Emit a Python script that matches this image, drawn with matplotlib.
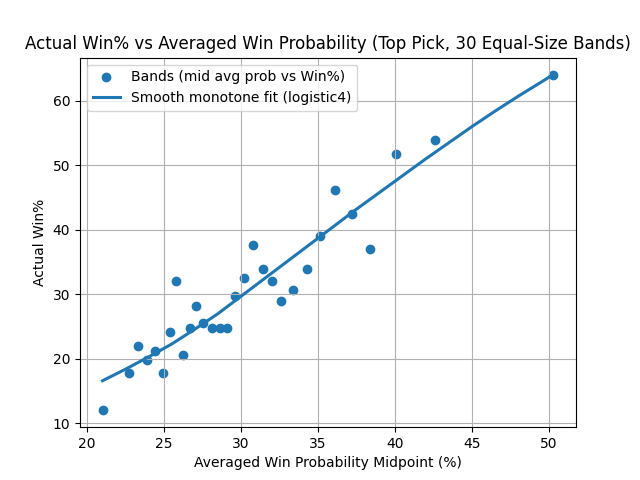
import numpy as np
import matplotlib.pyplot as plt

# Band midpoints (avg win probability, %) and actual win%
mid_prob = [21.0, 22.7, 23.3, 23.9, 24.4, 24.9, 25.4, 25.8, 26.2, 26.7,
            27.1, 27.5, 28.1, 28.6, 29.1, 29.6, 30.2, 30.8, 31.4, 32.0,
            32.6, 33.4, 34.3, 35.1, 36.1, 37.2, 38.4, 40.1, 42.6, 50.3]
win_pct = [12.0, 17.8, 22.0, 19.8, 21.2, 17.8, 24.2, 32.0, 20.6, 24.8,
           28.2, 25.6, 24.8, 24.8, 24.8, 29.8, 32.6, 37.6, 34.0, 32.0,
           28.9, 30.6, 34.0, 39.0, 46.1, 42.5, 37.0, 51.7, 53.9, 64.0]

# Fitted curve
fit_x = [21.0, 22.5, 24.0, 25.5, 27.0, 28.5, 30.0, 31.5, 33.0, 34.5, 36.0,
         37.5, 39.0, 40.5, 42.0, 43.5, 45.0, 46.5, 48.0, 49.5, 50.3]
fit_y = [16.6, 18.4, 20.3, 22.3, 24.6, 27.0, 29.7, 32.4, 35.1, 37.8, 40.5,
         43.2, 45.8, 48.4, 51.0, 53.5, 56.0, 58.4, 60.7, 62.9, 64.1]

fig, ax = plt.subplots(figsize=(6.4, 4.8))
ax.scatter(mid_prob, win_pct, label="Bands (mid avg prob vs Win%)")
ax.plot(fit_x, fit_y, linewidth=2.2, label="Smooth monotone fit (logistic4)")
ax.set_title("Actual Win% vs Averaged Win Probability (Top Pick, 30 Equal-Size Bands)")
ax.set_xlabel("Averaged Win Probability Midpoint (%)")
ax.set_ylabel("Actual Win%")
ax.grid(True)
ax.legend(loc="upper left")
fig.savefig("out.png", dpi=100)
